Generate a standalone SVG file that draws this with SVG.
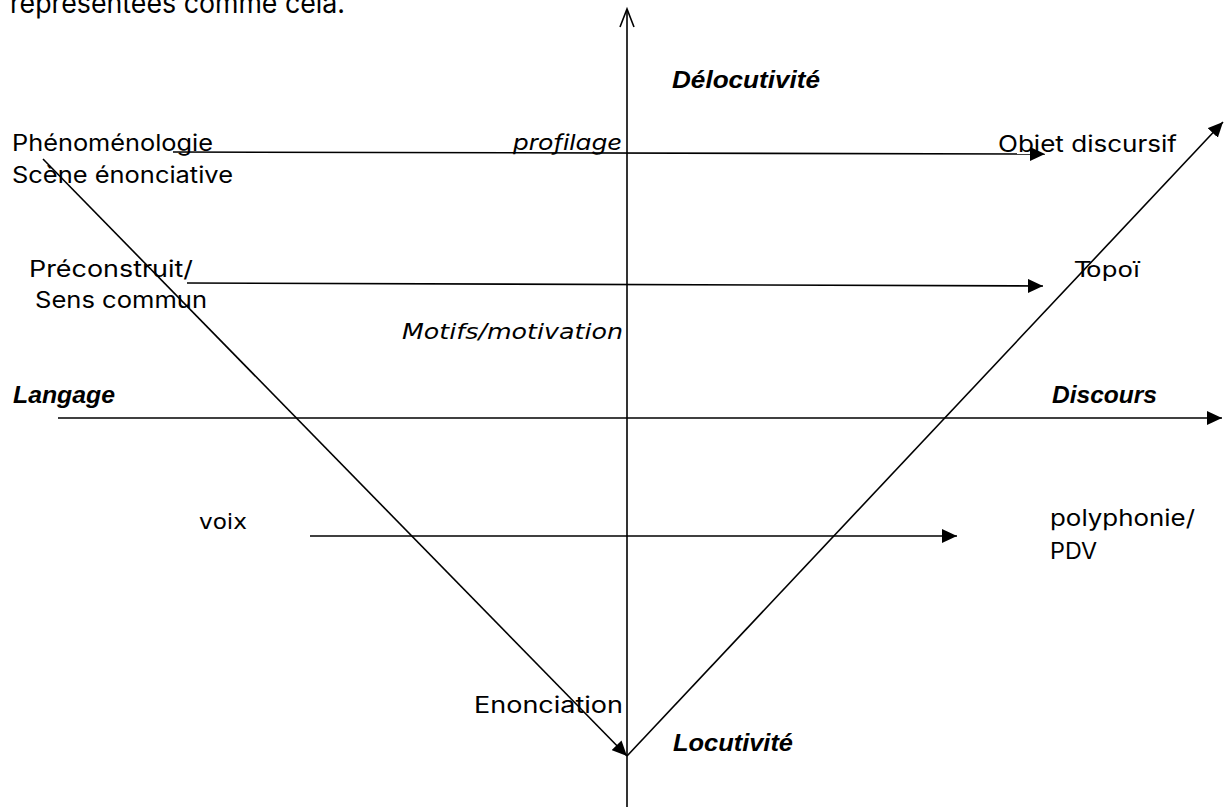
<svg xmlns="http://www.w3.org/2000/svg" width="1224" height="807" viewBox="0 0 1224 807">
<style>
.t{font-family:Inter,"Liberation Sans",sans-serif;font-size:22.5px;fill:#000}
.bi{font-family:"Liberation Sans",Arial,sans-serif;font-size:23px;font-weight:bold;font-style:italic;fill:#000}
.it{font-family:Inter,"Liberation Sans",sans-serif;font-size:22px;font-style:italic;fill:#000}
.dv{font-family:"DejaVu Sans",sans-serif;font-size:21px;fill:#000}
.dvi{font-family:"DejaVu Sans",sans-serif;font-size:21px;font-style:oblique;fill:#000}
.ln{stroke:#000;stroke-width:1.6;fill:none}
</style>
<defs>
<marker id="ah" markerUnits="userSpaceOnUse" markerWidth="16" markerHeight="14" refX="15" refY="7" orient="auto">
<path d="M0,0 L15,7 L0,14 z" fill="#000"/>
</marker>
</defs>
<rect width="1224" height="807" fill="#fff"/>
<text class="t" x="10" y="13" style="font-size:28px" textLength="335" lengthAdjust="spacingAndGlyphs">représentées comme cela.</text>
<g id="connectors">
<line class="ln" x1="627" y1="807" x2="627" y2="10"/>
<polyline class="ln" points="620,27 627,9 634,27"/>
<line class="ln" x1="58" y1="418" x2="1222" y2="418" marker-end="url(#ah)"/>
<line class="ln" x1="43" y1="159" x2="627" y2="756" marker-end="url(#ah)"/>
<line class="ln" x1="627" y1="756" x2="1223" y2="122" marker-end="url(#ah)"/>
<line class="ln" x1="173" y1="152" x2="1045" y2="154" marker-end="url(#ah)"/>
<line class="ln" x1="187" y1="283" x2="1043" y2="286" marker-end="url(#ah)"/>
<line class="ln" x1="310" y1="536" x2="957" y2="536" marker-end="url(#ah)"/>
</g>
<g id="n-delocutivite"><text class="bi" x="672" y="88" textLength="148" lengthAdjust="spacingAndGlyphs">Délocutivité</text></g>
<g id="n-phenomenologie"><text class="t" x="12" y="151" textLength="201" lengthAdjust="spacingAndGlyphs">Phénoménologie</text>
<text class="t" x="12" y="183" textLength="221" lengthAdjust="spacingAndGlyphs">Scène énonciative</text></g>
<g id="n-profilage"><text class="it" x="513" y="150" textLength="109" lengthAdjust="spacingAndGlyphs">profilage</text></g>
<g id="n-objet"><text class="t" x="998" y="152" textLength="179" lengthAdjust="spacingAndGlyphs">Objet discursif</text></g>
<g id="n-preconstruit"><text class="t" x="29" y="277" textLength="164" lengthAdjust="spacingAndGlyphs">Préconstruit/</text>
<text class="t" x="35" y="308" textLength="172" lengthAdjust="spacingAndGlyphs">Sens commun</text></g>
<g id="n-topoi"><text class="dv" x="1075" y="277" textLength="65" lengthAdjust="spacingAndGlyphs">Topoï</text></g>
<g id="n-motifs"><text class="dvi" x="402" y="339" textLength="221" lengthAdjust="spacingAndGlyphs">Motifs/motivation</text></g>
<g id="n-langage"><text class="bi" x="13" y="403" textLength="102" lengthAdjust="spacingAndGlyphs">Langage</text></g>
<g id="n-discours"><text class="bi" x="1052" y="403" textLength="105" lengthAdjust="spacingAndGlyphs">Discours</text></g>
<g id="n-voix"><text class="dv" x="199" y="529" textLength="48" lengthAdjust="spacingAndGlyphs">voix</text></g>
<g id="n-polyphonie"><text class="t" x="1050" y="526" textLength="145" lengthAdjust="spacingAndGlyphs">polyphonie/</text>
<text class="t" x="1050" y="559" textLength="47" lengthAdjust="spacingAndGlyphs">PDV</text></g>
<g id="n-enonciation"><text class="t" x="474" y="713" textLength="149" lengthAdjust="spacingAndGlyphs">Enonciation</text></g>
<g id="n-locutivite"><text class="bi" x="673" y="751" textLength="120" lengthAdjust="spacingAndGlyphs">Locutivité</text></g>
</svg>
